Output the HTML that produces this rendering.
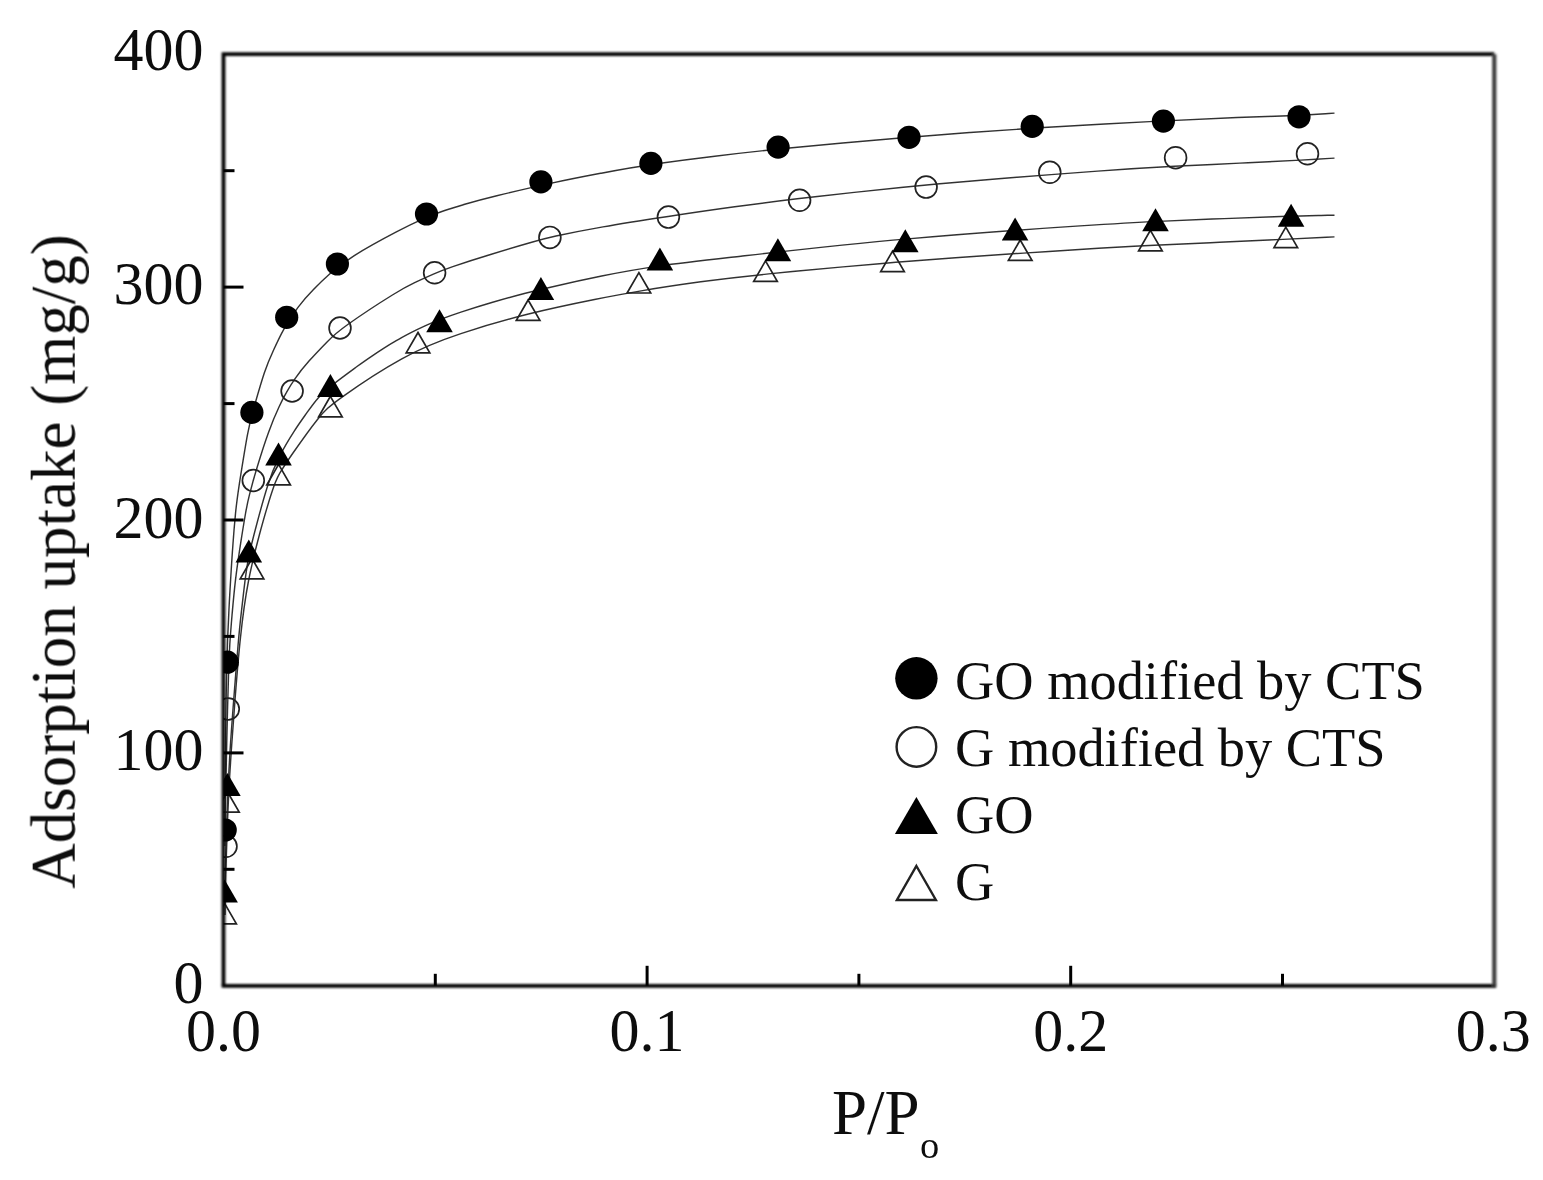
<!DOCTYPE html>
<html lang="en">
<head>
<meta charset="utf-8">
<title>Adsorption uptake vs P/Po</title>
<style>
html,body{margin:0;padding:0;background:#fff;}
body{width:1543px;height:1180px;overflow:hidden;}
svg{display:block;}
text{font-family:"Liberation Serif","Times New Roman",serif;fill:#111;}
.tick{font-size:60px;}
.axl{font-size:63px;}
.leg{font-size:54.4px;}
</style>
</head>
<body>
<svg width="1543" height="1180" viewBox="0 0 1543 1180">
<defs><clipPath id="plot"><rect x="223.5" y="54.2" width="1270.8" height="931.6"/></clipPath>
<clipPath id="cend"><rect x="223.5" y="54.2" width="1111.5" height="931.6"/></clipPath>
<filter id="fa" x="-2%" y="-2%" width="104%" height="104%"><feGaussianBlur stdDeviation="0.65"/></filter>
<filter id="fb" x="-2%" y="-2%" width="104%" height="104%"><feGaussianBlur stdDeviation="1.1"/></filter>
<filter id="fc" x="-2%" y="-2%" width="104%" height="104%"><feGaussianBlur stdDeviation="0.7"/></filter></defs>
<rect width="1543" height="1180" fill="#fff"/>
<g filter="url(#fa)">
<g clip-path="url(#plot)">
<g fill="none" stroke="#333" stroke-width="1.45" clip-path="url(#cend)">
<path d="M225.0,830.0 C225.0,830.0 225.0,830.0 225.0,818.3 C225.1,806.7 225.2,783.3 225.4,761.7 C225.5,740.0 225.8,720.0 226.0,703.7 C226.3,687.3 226.5,674.7 226.8,664.7 C227.1,654.7 227.3,647.3 227.6,639.5 C227.9,631.7 228.3,623.3 228.8,613.3 C229.2,603.3 229.9,591.7 230.6,580.0 C231.3,568.3 232.0,556.7 232.9,545.0 C233.7,533.3 234.7,521.7 235.6,512.5 C236.5,503.3 237.4,496.7 239.5,482.8 C241.7,469.0 245.0,448.0 247.4,435.1 C249.8,422.1 251.1,417.3 253.9,407.6 C256.7,397.9 260.8,383.3 264.3,372.9 C267.8,362.6 270.7,356.3 273.6,350.0 C276.5,343.6 279.4,337.2 283.5,329.8 C287.6,322.5 292.8,314.3 298.0,307.4 C303.2,300.5 308.3,294.9 313.5,289.6 C318.7,284.2 323.9,279.1 329.9,273.8 C335.8,268.5 342.5,263.0 354.3,255.6 C366.1,248.2 383.1,238.9 395.9,232.2 C408.8,225.4 417.7,221.3 424.2,218.4 C430.6,215.5 434.8,213.8 441.2,211.7 C447.5,209.5 456.2,206.9 464.8,204.3 C473.4,201.8 482.1,199.4 496.8,195.8 C511.5,192.2 532.2,187.3 550.4,183.4 C568.7,179.4 584.3,176.4 600.6,173.3 C617.0,170.3 633.9,167.2 653.1,164.3 C672.3,161.5 693.6,158.7 714.8,156.2 C736.0,153.6 757.1,151.1 789.4,148.0 C821.7,144.9 865.4,141.0 897.4,138.3 C929.3,135.6 949.7,134.1 970.2,132.5 C990.7,131.0 1011.5,129.5 1043.7,127.5 C1075.9,125.6 1119.7,123.2 1154.3,121.4 C1188.9,119.6 1214.5,118.4 1237.1,117.5 C1259.7,116.7 1279.3,116.1 1295.1,115.5 C1310.8,114.8 1322.7,113.9 1328.6,113.5 C1334.5,113.1 1334.5,113.1 1334.5,113.1"/>
<path d="M225.0,846.0 C225.0,846.0 225.0,846.0 225.1,838.3 C225.2,830.7 225.3,815.3 225.5,801.0 C225.8,786.7 226.0,773.3 226.4,758.2 C226.7,743.0 227.1,726.0 227.5,711.0 C227.9,696.0 228.2,683.0 228.6,672.3 C228.9,661.7 229.3,653.3 229.8,644.2 C230.4,635.0 231.2,625.0 232.1,614.2 C233.1,603.3 234.1,591.7 235.6,579.2 C237.1,566.7 239.1,553.3 240.9,541.7 C242.7,530.0 244.4,520.0 245.6,513.0 C246.9,505.9 247.6,501.9 249.5,494.6 C251.3,487.4 254.1,477.1 257.6,465.8 C261.0,454.5 264.9,442.2 268.7,431.9 C272.5,421.5 276.2,413.0 279.1,406.8 C282.0,400.5 284.1,396.5 286.5,392.4 C288.8,388.2 291.3,384.0 294.9,378.8 C298.5,373.7 303.1,367.8 309.0,361.1 C314.9,354.5 322.0,347.1 327.3,341.7 C332.5,336.3 336.0,332.9 347.8,324.5 C359.6,316.1 379.8,302.8 392.4,295.0 C405.0,287.1 410.0,284.8 415.7,282.1 C421.5,279.4 427.9,276.5 433.4,274.1 C438.9,271.7 443.5,269.8 452.8,266.6 C462.2,263.4 476.5,258.7 491.4,254.2 C506.3,249.6 521.8,245.0 531.7,242.2 C541.5,239.4 545.6,238.3 556.0,236.0 C566.5,233.8 583.2,230.4 603.0,226.9 C622.8,223.4 645.6,219.9 668.1,216.5 C690.6,213.0 712.8,209.8 734.7,206.8 C756.5,203.8 778.1,201.1 797.2,198.8 C816.4,196.5 833.2,194.7 854.3,192.4 C875.3,190.1 900.7,187.5 924.0,185.2 C947.3,183.0 968.7,181.3 998.5,178.8 C1028.3,176.4 1066.7,173.3 1097.6,171.1 C1128.5,168.9 1152.1,167.5 1174.4,166.3 C1196.7,165.2 1217.9,164.1 1239.9,163.1 C1261.8,162.0 1284.7,161.0 1300.6,160.1 C1316.5,159.3 1325.5,158.7 1330.0,158.4 C1334.5,158.1 1334.5,158.1 1334.5,158.1"/>
<path d="M225.0,895.0 C225.0,895.0 225.0,895.0 225.1,889.2 C225.2,883.3 225.3,871.7 225.6,860.8 C225.8,850.0 226.2,840.0 226.6,828.0 C227.0,816.0 227.5,802.0 228.1,788.7 C228.7,775.3 229.3,762.7 230.1,750.5 C230.8,738.3 231.7,726.7 233.1,707.7 C234.6,688.7 236.6,662.3 238.0,645.7 C239.5,629.0 240.2,622.0 241.3,612.7 C242.3,603.3 243.7,591.7 244.9,581.7 C246.2,571.7 247.4,563.3 249.1,555.0 C250.8,546.7 253.0,538.3 256.2,526.2 C259.4,514.1 263.7,498.1 267.6,486.0 C271.4,473.8 275.0,465.4 279.4,456.7 C283.8,448.0 289.2,439.0 294.1,431.4 C298.9,423.8 303.4,417.7 307.3,412.2 C311.2,406.8 314.5,402.2 318.2,398.0 C321.8,393.9 325.7,390.2 332.7,384.7 C339.7,379.1 349.9,371.7 357.0,366.5 C364.2,361.3 368.4,358.4 372.3,355.8 C376.2,353.1 379.7,350.8 383.6,348.3 C387.5,345.8 391.8,343.2 396.3,340.6 C400.8,337.9 405.7,335.3 410.5,332.8 C415.3,330.3 420.2,328.0 425.0,325.8 C429.8,323.7 434.7,321.6 440.5,319.4 C446.3,317.2 453.2,314.7 461.7,311.9 C470.2,309.1 480.5,305.8 491.8,302.5 C503.0,299.2 515.4,295.8 525.3,293.2 C535.3,290.7 542.8,288.9 554.9,286.2 C566.9,283.4 583.5,279.7 601.7,276.0 C620.0,272.4 639.9,268.8 659.9,265.9 C679.9,263.0 700.0,260.8 740.9,256.2 C781.8,251.6 843.6,244.6 907.8,238.9 C971.9,233.2 1038.5,228.6 1080.1,225.9 C1121.8,223.2 1138.6,222.3 1158.6,221.4 C1178.6,220.5 1201.8,219.5 1224.3,218.6 C1246.9,217.7 1268.8,216.9 1287.0,216.3 C1305.3,215.7 1319.9,215.5 1327.2,215.3 C1334.5,215.2 1334.5,215.2 1334.5,215.2"/>
<path d="M225.0,915.0 C225.0,915.0 225.0,915.0 225.1,909.2 C225.2,903.3 225.3,891.7 225.6,880.8 C225.8,870.0 226.2,860.0 226.6,847.7 C227.0,835.3 227.5,820.7 228.1,807.3 C228.7,794.0 229.3,782.0 230.0,771.0 C230.7,760.0 231.3,750.0 232.2,738.3 C233.0,726.7 234.0,713.3 235.3,696.0 C236.7,678.7 238.3,657.3 240.5,637.3 C242.6,617.3 245.1,598.7 248.5,581.0 C251.9,563.3 256.2,546.7 260.4,531.0 C264.7,515.4 269.0,500.7 272.1,491.4 C275.2,482.1 277.1,478.0 279.8,473.2 C282.6,468.4 286.1,462.9 293.0,453.0 C299.9,443.1 310.0,428.9 317.3,419.7 C324.6,410.5 329.0,406.4 343.1,396.3 C357.2,386.2 381.0,370.3 401.8,358.8 C422.5,347.4 440.3,340.4 460.9,333.6 C481.4,326.7 504.9,319.9 528.5,314.0 C552.2,308.1 576.1,303.2 594.5,299.5 C613.0,295.8 625.9,293.4 642.6,290.6 C659.3,287.8 679.6,284.7 700.8,281.8 C721.9,279.0 743.7,276.4 768.7,273.9 C793.7,271.4 821.9,268.8 843.0,266.9 C864.2,265.0 878.3,263.8 895.8,262.3 C913.3,260.9 934.2,259.4 955.4,257.8 C976.7,256.3 998.5,254.7 1023.5,253.1 C1048.5,251.4 1076.7,249.6 1098.4,248.3 C1120.1,247.0 1135.3,246.3 1154.4,245.3 C1173.6,244.4 1196.8,243.4 1219.4,242.3 C1241.9,241.3 1263.9,240.3 1283.0,239.4 C1302.0,238.5 1318.3,237.7 1326.4,237.3 C1334.5,236.9 1334.5,236.9 1334.5,236.9"/>
</g>
<g fill="none" stroke="#222" stroke-width="1.7">
<path d="M224.6,903.3 L236.4,923.8 L212.8,923.8 Z"/>
<path d="M227.4,791.7 L239.2,812.1 L215.6,812.1 Z"/>
<path d="M252.0,558.5 L263.8,578.9 L240.2,578.9 Z"/>
<path d="M278.6,464.4 L290.4,484.8 L266.8,484.8 Z"/>
<path d="M330.4,396.3 L342.2,416.8 L318.6,416.8 Z"/>
<path d="M418.0,332.5 L429.8,352.9 L406.2,352.9 Z"/>
<path d="M528.1,300.0 L539.9,320.4 L516.3,320.4 Z"/>
<path d="M638.9,272.6 L650.7,293.0 L627.1,293.0 Z"/>
<path d="M765.5,260.9 L777.3,281.3 L753.7,281.3 Z"/>
<path d="M892.5,251.2 L904.3,271.6 L880.7,271.6 Z"/>
<path d="M1020.2,240.0 L1032.0,260.4 L1008.4,260.4 Z"/>
<path d="M1150.4,230.3 L1162.2,250.8 L1138.6,250.8 Z"/>
<path d="M1285.8,227.2 L1297.6,247.7 L1274.0,247.7 Z"/>
</g>
<g fill="none" stroke="#222" stroke-width="1.7">
<circle cx="226.0" cy="846.3" r="10.9"/>
<circle cx="228.3" cy="709.0" r="10.9"/>
<circle cx="253.3" cy="480.5" r="10.9"/>
<circle cx="292.1" cy="391.0" r="10.9"/>
<circle cx="340.0" cy="328.0" r="10.9"/>
<circle cx="434.6" cy="272.8" r="10.9"/>
<circle cx="549.9" cy="237.4" r="10.9"/>
<circle cx="668.4" cy="217.1" r="10.9"/>
<circle cx="799.6" cy="200.3" r="10.9"/>
<circle cx="926.1" cy="187.1" r="10.9"/>
<circle cx="1049.8" cy="172.3" r="10.9"/>
<circle cx="1175.6" cy="157.7" r="10.9"/>
<circle cx="1307.5" cy="153.8" r="10.9"/>
</g>
<g fill="#000" stroke="none">
<path d="M224.6,879.4 L237.9,902.4 L211.3,902.4 Z"/>
<path d="M227.4,772.9 L240.7,795.9 L214.1,795.9 Z"/>
<path d="M248.8,539.4 L262.1,562.4 L235.5,562.4 Z"/>
<path d="M278.5,442.4 L291.8,465.4 L265.2,465.4 Z"/>
<path d="M330.4,373.9 L343.7,396.9 L317.1,396.9 Z"/>
<path d="M439.5,309.3 L452.8,332.3 L426.2,332.3 Z"/>
<path d="M540.9,276.9 L554.2,299.9 L527.6,299.9 Z"/>
<path d="M659.9,247.6 L673.2,270.6 L646.6,270.6 Z"/>
<path d="M777.9,238.2 L791.2,261.2 L764.6,261.2 Z"/>
<path d="M905.3,229.2 L918.6,252.2 L892.0,252.2 Z"/>
<path d="M1015.1,217.6 L1028.4,240.6 L1001.8,240.6 Z"/>
<path d="M1155.5,208.3 L1168.8,231.3 L1142.2,231.3 Z"/>
<path d="M1291.1,203.7 L1304.4,226.7 L1277.8,226.7 Z"/>
</g>
<g fill="#000" stroke="none">
<circle cx="225.2" cy="830.0" r="11.6"/>
<circle cx="227.3" cy="662.2" r="11.6"/>
<circle cx="251.9" cy="412.4" r="11.6"/>
<circle cx="286.7" cy="317.3" r="11.6"/>
<circle cx="337.4" cy="264.0" r="11.6"/>
<circle cx="426.5" cy="214.0" r="11.6"/>
<circle cx="540.9" cy="181.9" r="11.6"/>
<circle cx="650.9" cy="163.4" r="11.6"/>
<circle cx="778.1" cy="147.1" r="11.6"/>
<circle cx="909.0" cy="137.3" r="11.6"/>
<circle cx="1032.2" cy="126.4" r="11.6"/>
<circle cx="1163.4" cy="121.1" r="11.6"/>
<circle cx="1299.0" cy="116.8" r="11.6"/>
</g>
</g>
</g>
<g filter="url(#fc)">
<g stroke="#000" stroke-width="3" fill="none">
<line x1="223.5" y1="869.3" x2="234.5" y2="869.3"/>
<line x1="223.5" y1="752.9" x2="243.5" y2="752.9"/>
<line x1="223.5" y1="636.4" x2="234.5" y2="636.4"/>
<line x1="223.5" y1="520.0" x2="243.5" y2="520.0"/>
<line x1="223.5" y1="403.6" x2="234.5" y2="403.6"/>
<line x1="223.5" y1="287.1" x2="243.5" y2="287.1"/>
<line x1="223.5" y1="170.7" x2="234.5" y2="170.7"/>
<line x1="435.3" y1="985.8" x2="435.3" y2="973.8"/>
<line x1="647.1" y1="985.8" x2="647.1" y2="965.8"/>
<line x1="858.9" y1="985.8" x2="858.9" y2="973.8"/>
<line x1="1070.7" y1="985.8" x2="1070.7" y2="965.8"/>
<line x1="1282.5" y1="985.8" x2="1282.5" y2="973.8"/>
</g>
</g>
<g filter="url(#fb)">
<path d="M1494.3,54.2 L223.5,54.2 L223.5,985.8" fill="none" stroke="#000" stroke-width="3.8" stroke-linejoin="miter"/>
<path d="M223.5,985.8 L1494.3,985.8" fill="none" stroke="#000" stroke-width="3.8" stroke-linecap="square"/>
<path d="M1494.3,54.2 L1494.3,985.8" fill="none" stroke="#3c3c3c" stroke-width="4.2" stroke-linecap="butt"/>
</g>
<g filter="url(#fc)">
<text class="tick" transform="translate(203.6,1002.8) scale(1,1.025)" text-anchor="end">0</text>
<text class="tick" transform="translate(203.6,770.4) scale(1,1.025)" text-anchor="end">100</text>
<text class="tick" transform="translate(203.6,538.0) scale(1,1.025)" text-anchor="end">200</text>
<text class="tick" transform="translate(203.6,304.1) scale(1,1.025)" text-anchor="end">300</text>
<text class="tick" transform="translate(203.6,70.2) scale(1,1.025)" text-anchor="end">400</text>
<text class="tick" transform="translate(223.5,1051.4) scale(1,1.02)" text-anchor="middle">0.0</text>
<text class="tick" transform="translate(647.1,1051.4) scale(1,1.02)" text-anchor="middle">0.1</text>
<text class="tick" transform="translate(1070.7,1051.4) scale(1,1.02)" text-anchor="middle">0.2</text>
<text class="tick" transform="translate(1493.3,1051.4) scale(1,1.02)" text-anchor="middle">0.3</text>
<text class="axl" transform="translate(74.7,561.5) rotate(-90)" text-anchor="middle">Adsorption uptake (mg/g)</text>
<text class="axl" x="832" y="1134.4">P/P<tspan dy="23.7" dx="0.3" font-size="38.5">o</tspan></text>
<circle cx="916.4" cy="678.3" r="21.2" fill="#000"/>
<circle cx="916.4" cy="746.9" r="19.8" fill="none" stroke="#222" stroke-width="2.4"/>
<path d="M916.4,797 L937.9,834 L894.9,834 Z" fill="#000"/>
<path d="M916.4,866 L935.9,900 L896.9,900 Z" fill="none" stroke="#222" stroke-width="2.4"/>
<text class="leg" x="955" y="698.9">GO modified by CTS</text>
<text class="leg" x="955" y="765.9">G modified by CTS</text>
<text class="leg" x="955" y="832.9">GO</text>
<text class="leg" x="955" y="899.9">G</text>
</g>
</svg>
</body>
</html>
